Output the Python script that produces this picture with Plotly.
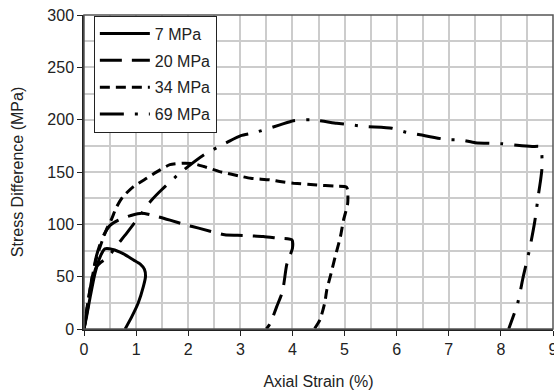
import plotly.graph_objects as go

# Stress-strain curves at four confining pressures
labels = ["7 MPa", "20 MPa", "34 MPa", "69 MPa"]

strain_7 = [0.0, 0.05, 0.12, 0.21, 0.31, 0.40, 0.55, 0.75, 0.95, 1.08, 1.16, 1.18, 1.14, 1.04, 0.92, 0.79]
stress_7 = [0.0, 12, 31, 53, 69, 76.5, 76, 72, 66, 62, 57, 50, 40.7, 24.8, 12, 0.0]

strain_20 = [0.0, 0.06, 0.14, 0.24, 0.36, 0.50, 0.66, 0.90, 1.11, 1.40, 1.65, 1.95, 2.20, 2.70, 2.95, 3.44, 3.70, 3.99, 4.00, 3.95, 3.89, 3.81, 3.70, 3.57, 3.50]
stress_20 = [0.0, 20, 45, 70, 88, 99, 104, 108.5, 110.7, 107.5, 104, 99.5, 96.4, 90, 89.5, 88.4, 86.9, 85.2, 77, 70, 61.4, 36, 21.6, 5, 0.0]

strain_34 = [0.0, 0.05, 0.14, 0.24, 0.34, 0.43, 0.52, 0.63, 0.75, 0.95, 1.20, 1.46, 1.65, 1.91, 2.10, 2.30, 2.60, 3.03, 3.20, 3.57, 3.76, 4.02, 4.47, 4.80, 5.04, 5.06, 4.98, 4.92, 4.82, 4.74, 4.66, 4.62, 4.53, 4.42]
stress_34 = [0.0, 18, 45, 68, 83, 95, 104, 117, 126.6, 136, 144, 152, 157, 158.4, 158, 155.2, 150.4, 145.7, 144, 142.5, 140.9, 139.3, 137.5, 136.5, 135.5, 120, 104, 88, 69, 53, 37.5, 25, 9, 0.0]

strain_69 = [0.0, 0.08, 0.24, 0.47, 0.64, 0.82, 1.11, 1.29, 1.49, 1.84, 2.29, 2.77, 3.01, 3.28, 3.76, 4.02, 4.34, 4.85, 5.13, 5.40, 5.91, 6.18, 6.45, 6.96, 7.24, 7.51, 8.02, 8.31, 8.60, 8.76, 8.79, 8.76, 8.72, 8.65, 8.55, 8.43, 8.32, 8.15]
stress_69 = [0.0, 22, 59.7, 69.3, 80.5, 91.6, 110.7, 122.7, 133, 149, 166, 179, 184.8, 187.7, 195, 199, 200, 196.6, 195, 193.4, 191.8, 188, 185.5, 181, 180.5, 178, 177, 175.5, 174.3, 174, 155, 141.5, 128.2, 102.7, 76, 50.2, 24.2, 0.0]

series = [
    (strain_7, stress_7, "solid"),
    (strain_20, stress_20, "22px,10px"),
    (strain_34, stress_34, "10px,6px"),
    (strain_69, stress_69, "24px,11px,3px,11px"),
]

fig = go.Figure()
for name, (xs, ys, dash) in zip(labels, series):
    fig.add_trace(go.Scatter(
        x=xs, y=ys, name=name, mode="lines",
        line=dict(color="black", width=3, dash=dash, shape="spline", smoothing=0.6),
        legendgroup=name,
    ))

grid_color = "#cccccc"
family = "Liberation Sans, Arial, sans-serif"
font = dict(family=family, size=16, color="#222222")

fig.update_layout(
    width=554, height=392,
    margin=dict(l=84, r=1, t=15, b=63, autoexpand=False),
    paper_bgcolor="white", plot_bgcolor="white",
    font=font,
    showlegend=True,
    legend=dict(
        x=0.021, y=0.998, xanchor="left", yanchor="top",
        bgcolor="white", bordercolor="#222222", borderwidth=1,
        font=dict(family=family, size=16, color="#222222"),
        traceorder="grouped", tracegroupgap=3, itemwidth=50,
    ),
)

fig.update_xaxes(
    range=[0, 9], tick0=0, dtick=1,
    showgrid=True, gridcolor=grid_color, gridwidth=1.5,
    minor=dict(dtick=0.5, showgrid=True, gridcolor=grid_color, gridwidth=1.5),
    showline=True, linecolor="#222222", linewidth=1.5, mirror=False,
    ticks="outside", ticklen=5, tickcolor="#222222",
    ticklabeloverflow="allow", automargin=False,
    zeroline=False,
    tickfont=dict(size=16),
    title=dict(text="Axial Strain (%)", font=dict(size=16), standoff=19),
)
fig.update_yaxes(
    range=[0, 300], tick0=0, dtick=50,
    showgrid=True, gridcolor=grid_color, gridwidth=1.5,
    minor=dict(dtick=25, showgrid=True, gridcolor=grid_color, gridwidth=1.5),
    showline=True, linecolor="#222222", linewidth=1.5, mirror=False,
    ticks="outside", ticklen=5, tickcolor="#222222",
    automargin=False,
    zeroline=False,
    tickfont=dict(size=16),
    title=dict(text="Stress Difference (MPa)", font=dict(size=16), standoff=20),
)

# Frame along the top and right edges of the plot area
fig.add_shape(type="rect", xref="paper", yref="paper", x0=0, y0=0, x1=1, y1=1,
              line=dict(color="#555555", width=1.5), layer="above")

fig.write_html("out.html")
